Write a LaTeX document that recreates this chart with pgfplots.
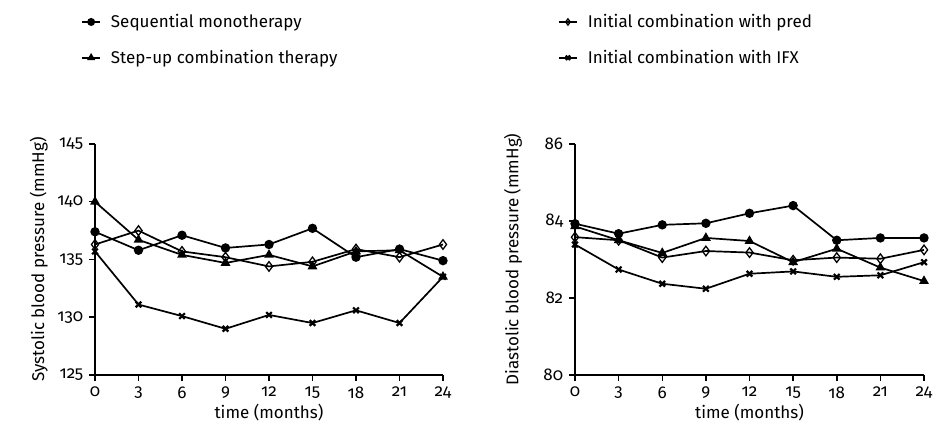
\documentclass[border=0pt]{standalone}
\usepackage{pgfplots}
\pgfplotsset{compat=1.18}
\usepackage{fontspec}
\setmainfont{Fira Sans}[Numbers=OldStyle]
\begin{document}
\fontsize{17pt}{20pt}\selectfont
\begin{tikzpicture}
\useasboundingbox (0,0) rectangle (942pt,427pt);
\pgfplotsset{
  bp/.style={
    width=348pt, height=231pt, scale only axis,
    axis lines*=left, axis line style={line width=1.8pt},
    xmin=0, xmax=24, xtick={0,3,...,24},
    tick style={line width=1.5pt, black},
    tick align=outside, major tick length=6pt,
    /pgf/number format/assume math mode=true,
    ticklabel style={font=\fontsize{17pt}{19pt}\selectfont},
    label style={font=\fontsize{17pt}{20pt}\selectfont},
    xlabel={time (months)},
    xlabel style={yshift=6pt},
    clip=false,
    legend cell align=left,
    legend image code/.code={\draw[##1, mark size=3.1pt, mark repeat=2, mark phase=2] plot coordinates {(0pt,0pt) (9pt,0pt) (18pt,0pt)};},
    legend style={draw=none, fill=none, inner sep=0pt, row sep=16pt,
      anchor=north west, font=\fontsize{17pt}{20pt}\selectfont,
      /tikz/every odd column/.append style={column sep=8pt}},
  },
  s1/.style={black, line width=1.7pt, mark=*, mark size=3.8pt},
  s2/.style={black, line width=1.7pt, mark=triangle*, mark size=4pt},
  s3/.style={black, line width=1.7pt, mark=diamond, mark size=4.8pt, mark options={fill=white, line width=1.3pt}},
  s4/.style={black, line width=1.7pt, mark=x, mark size=4pt, mark options={line width=2.2pt}},
}
\begin{axis}[bp, at={(95pt,52pt)}, anchor=south west,
  ymin=125, ymax=145, ytick={125,130,...,145},
  ylabel={Systolic blood pressure (mmHg)},
  ylabel style={yshift=-2pt},
  legend style={at={(rel axis cs:-0.040,1.572)}}]
\addplot[s1] coordinates {(0,137.4)(3,135.8)(6,137.1)(9,136.0)(12,136.3)(15,137.7)(18,135.2)(21,135.9)(24,134.9)};
\addlegendentry{Sequential monotherapy}
\addplot[s2] coordinates {(0,140.0)(3,136.7)(6,135.4)(9,134.7)(12,135.4)(15,134.4)(18,135.7)(21,135.8)(24,133.5)};
\addlegendentry{Step-up combination therapy}
\addplot[s3] coordinates {(0,136.3)(3,137.5)(6,135.7)(9,135.2)(12,134.4)(15,134.8)(18,135.9)(21,135.2)(24,136.3)};
\addplot[s4] coordinates {(0,135.7)(3,131.1)(6,130.1)(9,129.0)(12,130.2)(15,129.5)(18,130.6)(21,129.5)(24,133.5)};
\end{axis}
\begin{axis}[bp, at={(575pt,52pt)}, anchor=south west, width=349pt,
  ymin=80, ymax=86, ytick={80,82,84,86},
  ylabel={Diastolic blood pressure (mmHg)},
  ylabel style={yshift=10pt},
  legend style={at={(rel axis cs:-0.049,1.572)}}]
\addplot[s1, forget plot] coordinates {(0,83.93)(3,83.67)(6,83.9)(9,83.94)(12,84.2)(15,84.4)(18,83.5)(21,83.56)(24,83.56)};
\addplot[s2, forget plot] coordinates {(0,83.86)(3,83.5)(6,83.17)(9,83.56)(12,83.48)(15,82.93)(18,83.28)(21,82.79)(24,82.44)};
\addplot[s3] coordinates {(0,83.58)(3,83.5)(6,83.05)(9,83.22)(12,83.18)(15,82.98)(18,83.05)(21,83.02)(24,83.25)};
\addlegendentry{Initial combination with pred}
\addplot[s4] coordinates {(0,83.39)(3,82.74)(6,82.37)(9,82.24)(12,82.63)(15,82.69)(18,82.55)(21,82.59)(24,82.93)};
\addlegendentry{Initial combination with IFX}
\end{axis}
\end{tikzpicture}
\end{document}
